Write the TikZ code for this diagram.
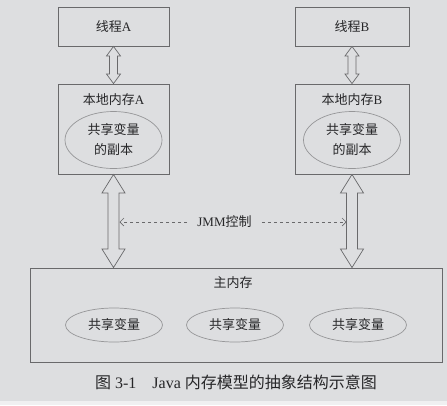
\documentclass[tikz,border=0pt]{standalone}
\usepackage{fontspec}
\setmainfont{Liberation Serif}
\newfontfamily\cjk{Noto Sans CJK SC}
\usepackage{tikz}
\usetikzlibrary{calc}
\usetikzlibrary{arrows.meta}
\usetikzlibrary{shapes.geometric}
\definecolor{bggray}{RGB}{221,222,224}
\definecolor{stripgray}{RGB}{240,240,241}
\definecolor{linegray}{RGB}{105,105,107}
\definecolor{ellgray}{RGB}{150,150,152}
\definecolor{txtgray}{RGB}{38,38,40}
\tikzset{box/.style = {shape=rectangle,draw=linegray,line width=0.9pt,inner sep=0pt}}
\tikzset{var/.style = {shape=ellipse,draw=ellgray,line width=0.7pt,minimum width=97pt,minimum height=34pt,inner sep=0pt,text=txtgray,align=center}}
\tikzset{lbl/.style = {inner sep=0pt,text=txtgray}}
\tikzset{fat/.style = {draw=linegray,line width=0.7pt,fill=bggray}}
\tikzset{jmmline/.style = {draw=linegray,line width=0.6pt,dash pattern=on 3.5pt off 2.5pt,-{Straight Barb[length=4pt,width=8pt]}}}
\newcommand{\hollowarrow}[5]{%
  \draw[fat] (#1) -- ($(#1)+(#4,#5)$) -- ($(#1)+(#3,#5)$) -- ($(#2)+(#3,-#5)$)
    -- ($(#2)+(#4,-#5)$) -- (#2) -- ($(#2)+(-#4,-#5)$) -- ($(#2)+(-#3,-#5)$)
    -- ($(#1)+(-#3,#5)$) -- ($(#1)+(-#4,#5)$) -- cycle;}

\begin{document}
\begin{tikzpicture}[x=1pt,y=-1pt,font=\fontsize{13pt}{20pt}\selectfont]
  \useasboundingbox (0,0) rectangle (447,405);
  \fill[stripgray] (0,0) rectangle (447,405);
  \fill[bggray] (0,0) rectangle (447,401);

  % threads and their local memory
  \foreach \s/\x/\w in {A/113.5/111,B/352/114} {
    \node[box, minimum width=\w pt, minimum height=39pt, text=txtgray] (thread\s) at (\x,26.5) {{\cjk 线程}\s};
    \node[box, minimum width=\w pt, minimum height=90pt] (local\s) at (\x,129) {};
    \node[lbl] (local\s name) at (\x,100) {{\cjk 本地内存}\s};
    \node[var, minimum height=57pt] (copy\s) at (\x,140) {\cjk 共享变量\\\cjk 的副本};
  }

  % main memory
  \node[box, minimum width=412pt, minimum height=94pt] (main) at (236,315) {};
  \node[lbl] (mainname) at (233,283) {\cjk 主内存};
  \foreach \i/\x in {1/114,2/235,3/358} {
    \node[var] (var\i) at (\x,325) {\cjk 共享变量};
  }

  % arrows
  \coordinate (mainA) at (localA.south |- main.north);
  \coordinate (mainB) at (localB.south |- main.north);
  \hollowarrow{threadA.south}{localA.north}{4}{7}{9.5}
  \hollowarrow{threadB.south}{localB.north}{4}{7}{9.5}
  \hollowarrow{localA.south}{mainA}{5.5}{11.5}{18.5}
  \hollowarrow{localB.south}{mainB}{5.5}{11.5}{18.5}

  \node[lbl, inner xsep=10pt] (jmm) at (224.5,222) {JMM{\cjk 控制}};
  \coordinate (jmmL) at (119.5,222);
  \coordinate (jmmR) at (346.5,222);
  \draw[jmmline] (jmm.west) -- (jmmL);
  \draw[jmmline] (jmm.east) -- (jmmR);

  % caption
  \node[lbl, font=\fontsize{16pt}{20pt}\selectfont] (caption) at (236,382)
    {{\cjk 图} 3-1\hspace{1em}Java {\cjk 内存模型的抽象结构示意图}};
\end{tikzpicture}
\end{document}
